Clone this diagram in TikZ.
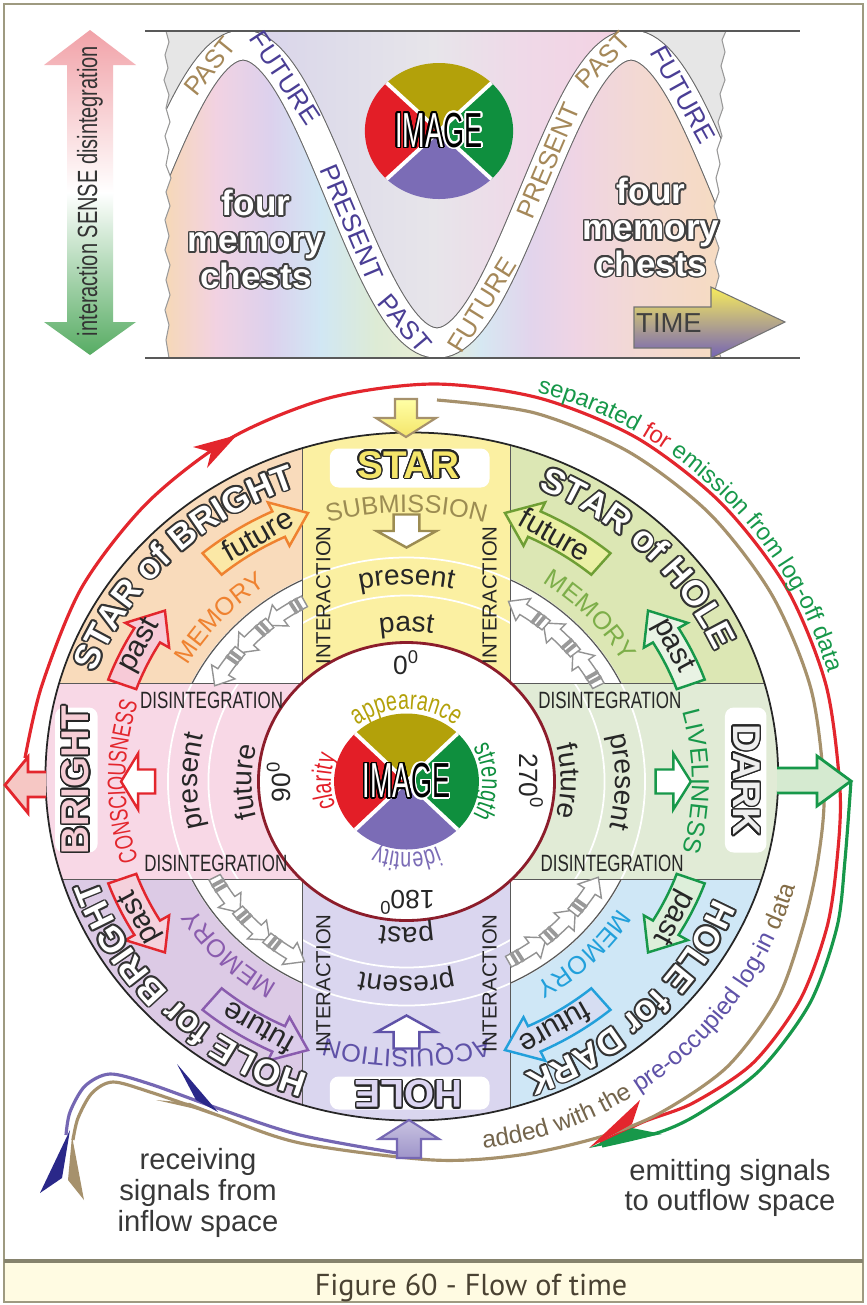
\documentclass[tikz,border=0pt]{standalone}
\usepackage{fontspec}
\usepackage[copies]{contour}
\usetikzlibrary{decorations.text}
\setmainfont{Liberation Sans}
\newfontfamily\narrowfont[FakeStretch=0.72]{Liberation Sans}
\newfontfamily\imagefont[FakeStretch=0.55]{Liberation Sans}
\newfontfamily\captionfont{PT Sans}
\contourlength{0.45pt}
\contournumber{20}

\definecolor{frameline}{HTML}{9E9A80}
\definecolor{captionband}{HTML}{FFFBE2}
\definecolor{captiontext}{HTML}{4A4232}
\definecolor{imgolive}{HTML}{B3A10A}
\definecolor{imggreen}{HTML}{0F8F3E}
\definecolor{imgpurple}{HTML}{7B6CB6}
\definecolor{imgred}{HTML}{E31E27}
\definecolor{wavetan}{HTML}{A58859}
\definecolor{wavepurple}{HTML}{4A3E95}
\definecolor{sensepink}{HTML}{F1A2A8}
\definecolor{sensegreen}{HTML}{57AC63}
\definecolor{timeyellow}{HTML}{F7EC5C}
\definecolor{timepurple}{HTML}{7463B5}
\definecolor{skygray}{HTML}{E6E6E6}
\definecolor{chestA}{HTML}{F6D8B8}
\definecolor{chestB}{HTML}{F2D2E2}
\definecolor{chestC}{HTML}{DCD1ED}
\definecolor{chestD}{HTML}{D1E7F4}
\definecolor{chestE}{HTML}{DDEBD5}
\definecolor{chestF}{HTML}{EAEDD3}
\definecolor{chestG}{HTML}{D6E8F2}
\definecolor{chestH}{HTML}{E2D4EC}
\definecolor{chestI}{HTML}{EFD4E4}
\definecolor{chestJ}{HTML}{F3D9D2}
\definecolor{chestK}{HTML}{F6DBC0}
\definecolor{skyA}{HTML}{D9D3EB}
\definecolor{skyB}{HTML}{DEDCEA}
\definecolor{skyC}{HTML}{E7E5EA}
\definecolor{skyD}{HTML}{EFD9E8}
\definecolor{skyE}{HTML}{F4D1E2}
% quadrants and arms of the disc
\definecolor{starbright}{HTML}{F9DBBB}
\definecolor{starhole}{HTML}{DCE7B4}
\definecolor{holedark}{HTML}{CFE7F6}
\definecolor{holebright}{HTML}{DCCAE5}
\definecolor{starfill}{HTML}{FBF0A2}
\definecolor{holefill}{HTML}{DAD6EF}
\definecolor{brightfill}{HTML}{F8D8E6}
\definecolor{darkfill}{HTML}{E1EBD6}
\definecolor{starletter}{HTML}{F4E56A}
\definecolor{holeletter}{HTML}{DCD5F2}
\definecolor{brightletter}{HTML}{F6CDD5}
\definecolor{darkletter}{HTML}{EEEEEE}
% rings and arrows
\definecolor{ringred}{HTML}{E3262D}
\definecolor{ringgreen}{HTML}{17984A}
\definecolor{ringtan}{HTML}{A6916C}
\definecolor{ringpurple}{HTML}{7567B3}
\definecolor{barbnavy}{HTML}{2A2889}
\definecolor{innerred}{HTML}{8C1D2B}
\definecolor{submit}{HTML}{9C8C52}
\definecolor{acquire}{HTML}{5F52A8}
\definecolor{memorange}{HTML}{EF8230}
\definecolor{memgreen}{HTML}{7DAE49}
\definecolor{memblue}{HTML}{22A0DB}
\definecolor{mempurple}{HTML}{8A5CAE}
\definecolor{futolive}{HTML}{6E9E34}
\definecolor{pastpinkA}{HTML}{F7CAD7}
\definecolor{pastpinkB}{HTML}{F5D1DC}
\definecolor{futyellow}{HTML}{FBE8A6}
\definecolor{futgreen}{HTML}{EBF0A4}
\definecolor{pastgreenA}{HTML}{E9F3E4}
\definecolor{pastgreenB}{HTML}{DDEFDA}
\definecolor{futblue}{HTML}{D6DDF2}
\definecolor{futlilac}{HTML}{DCCCEA}
\definecolor{brightarrow}{HTML}{F6C7C4}
\definecolor{darkarrow}{HTML}{D5EAD0}

\newcommand\fsize[1]{\fontsize{#1}{#1}\selectfont}
\def\wavey#1{-(194-149*cos((#1-243)*0.927835))}

% words set along an arc of the current frame: colour, font, radius, from, to, text
\newcommand\arcword[6]{%
  \path[decorate, decoration={text along path, text color=#1,
    text={|#2|#6}, text align=center}]
    (#4:#3) arc[start angle=#4, end angle=#5, radius=#3];}
% the same, with a dark rim round the letters
\newcommand\outarcword[6]{%
  \foreach \rimA in {0,30,...,330}
    \path[shift={(\rimA:0.5pt)}, decorate, decoration={text along path,
      text color=black!80, text={|#2|#6}, text align=center}]
      (#4:#3) arc[start angle=#4, end angle=#5, radius=#3];
  \arcword{#1}{#2}{#3}{#4}{#5}{#6}}
% bent block arrow: [style] radius, tail, head base, tip, shaft half width, head half width
\newcommand\bendarrow[7][]{%
  \pgfmathsetmacro\arrRin{#2-#6}\pgfmathsetmacro\arrRout{#2+#6}%
  \pgfmathsetmacro\arrHin{#2-#7}\pgfmathsetmacro\arrHout{#2+#7}%
  \draw[#1] ({#3}:\arrRin) arc[start angle={#3}, end angle={#4}, radius=\arrRin]
    -- ({#4}:\arrHin) -- ({#5}:#2) -- ({#4}:\arrHout) -- ({#4}:\arrRout)
    arc[start angle={#4}, end angle={#3}, radius=\arrRout] -- cycle;}
% straight arrow on an arm of the disc: style, direction, tail radius, tip radius
\newcommand\armarrow[4]{%
  \begin{scope}[rotate=#2]
    \pgfmathsetmacro\armbase{(#3+#4)/2}
    \draw[#1] (#3,-12) -- (\armbase,-12) -- (\armbase,-28) -- (#4,0)
      -- (\armbase,28) -- (\armbase,12) -- (#3,12) -- cycle;
  \end{scope}}
% the four-coloured IMAGE disc
\newcommand\imagedisc[2]{%
  \fill[imgolive] (0,0) -- (45:#1) arc[start angle=45, end angle=135, radius=#1] -- cycle;
  \fill[imgred] (0,0) -- (135:#1) arc[start angle=135, end angle=225, radius=#1] -- cycle;
  \fill[imgpurple] (0,0) -- (225:#1) arc[start angle=225, end angle=315, radius=#1] -- cycle;
  \fill[imggreen] (0,0) -- (315:#1) arc[start angle=315, end angle=405, radius=#1] -- cycle;
  \draw[white, line width=1.1pt] (45:#1) -- (225:#1) (135:#1) -- (315:#1);
  \node[font=\imagefont\fsize{14}, text=white, inner sep=0pt] (#2) at (0,0)
    {\contour{black}{IMA}\textcolor{black}{\contour{white}{GE}}};}

\def\panelpath{(166,-31) -- (169,-42) -- (165,-55) -- (168,-68) -- (164,-80) -- (169,-95)
  -- (166,-108) -- (170,-122) -- (165,-136) -- (169,-150) -- (166,-165) -- (171,-178)
  -- (166,-192) -- (170,-206) -- (165,-220) -- (169,-236) -- (165,-250) -- (170,-265)
  -- (166,-280) -- (170,-295) -- (165,-310) -- (169,-325) -- (166,-340) -- (169,-358)
  -- (721,-358) -- (717,-345) -- (721,-332) -- (716,-318) -- (720,-304) -- (715,-290)
  -- (719,-276) -- (715,-262) -- (719,-248) -- (714,-234) -- (718,-220) -- (714,-206)
  -- (719,-192) -- (716,-178) -- (720,-164) -- (717,-150) -- (722,-136) -- (718,-122)
  -- (723,-108) -- (720,-94) -- (725,-80) -- (721,-66) -- (725,-52) -- (722,-40)
  -- (726,-31) -- cycle}

\begin{document}
\begin{tikzpicture}[x=0.01cm, y=0.01cm,
  waveword/.style={font=\fsize{7.4}, inner sep=0pt},
  chestword/.style={font=\bfseries\fontsize{10}{10.3}\selectfont, text=white, align=center},
  armword/.style={font=\fsize{8.5}, text=black!85, inner sep=0pt},
  degword/.style={font=\fsize{7.5}, text=black!85, inner sep=0pt},
  inter/.style={font=\fsize{5.8}, text=black!85, rotate=90, inner sep=0pt},
  disint/.style={font=\narrowfont\fsize{6.7}, text=black!85, inner sep=0pt},
  bigword/.style={font=\bfseries\fsize{11}, inner sep=0pt},
  smallarrow/.style={draw=gray!85, fill=white, line width=0.4pt},
  note/.style={font=\fontsize{8.3}{8.7}\selectfont, text=black!78, align=center},
  namebox/.style={fill=white, rounded corners=2.5pt}]

\fill[white] (0,0) rectangle (867,-1305);
\useasboundingbox (0,0) rectangle (867,-1305);

% frame and caption band
\fill[captionband] (4,-1262) rectangle (863,-1302);
\draw[frameline, line width=0.6pt] (4,-4) rectangle (863,-1302);
\draw[frameline!85!black, line width=0.9pt] (4,-1261) -- (863,-1261);
\node[font=\captionfont\fsize{8.6}, text=captiontext] (caption) at (471,-1288) {Figure 60 - Flow of time};

% ---------- upper panel: the wave of time ----------
\begin{scope}
  \clip \panelpath;
  \foreach \xa/\xb/\ca/\cb in {166/215/chestA/chestB, 215/270/chestB/chestC, 270/320/chestC/chestD,
      320/375/chestD/chestE, 375/437/chestE/chestF, 437/480/chestF/chestG, 480/530/chestG/chestH,
      530/575/chestH/chestI, 575/640/chestI/chestJ, 640/726/chestJ/chestK}
    \shade[left color=\ca, right color=\cb] (\xa,-25) rectangle (\xb+1,-365);
  \begin{scope}
    \clip plot[domain=150:740, samples=120] (\x, {\wavey{\x}}) -- (740,-20) -- (150,-20) -- cycle;
    \foreach \xa/\xb/\ca/\cb in {243/330/skyA/skyB, 330/433/skyB/skyC, 433/520/skyC/skyD, 520/631/skyD/skyE}
      \shade[left color=\ca, right color=\cb] (\xa,-20) rectangle (\xb+1,-365);
    \fill[skygray] (150,-20) rectangle (243,-365) (631,-20) rectangle (740,-365);
  \end{scope}
  \draw[black!60, line width=8.9pt] plot[domain=150:740, samples=150] (\x, {\wavey{\x}});
  \draw[white, line width=8.3pt] plot[domain=150:740, samples=150] (\x, {\wavey{\x}});
\end{scope}
\draw[black!40, line width=0.3pt] \panelpath;
\draw[black!65, line width=0.4pt] (145,-31) -- (800,-31) (145,-358) -- (800,-358);

\foreach \x/\w/\c [count=\idx] in {210/PAST/wavetan, 285/FUTURE/wavepurple, 352/PRESENT/wavepurple,
    405/PAST/wavepurple, 482/FUTURE/wavetan, 548/PRESENT/wavetan, 603/PAST/wavetan, 683/FUTURE/wavepurple}
  \node[waveword, text=\c, rotate={atan(-2.413*sin((\x-243)*0.927835))}] (wave\idx) at (\x, {\wavey{\x}}) {\w};

\node[chestword] (chestL) at (256,-240) {\contour{black!75}{four}\\\contour{black!75}{memory}\\\contour{black!75}{chests}};
\node[chestword] (chestR) at (651,-228) {\contour{black!75}{four}\\\contour{black!75}{memory}\\\contour{black!75}{chests}};

\begin{scope}[shift={(439,-131)}, xscale=1.09]
  \imagedisc{68}{topimage}
\end{scope}

% sense arrow
\shade[top color=sensepink, bottom color=sensegreen, middle color=white]
  (90,-30) -- (136,-65) -- (113,-65) -- (113,-322) -- (136,-322) -- (90,-355)
  -- (44,-322) -- (67,-322) -- (67,-65) -- (44,-65) -- cycle;
\node[rotate=90, font=\narrowfont\fsize{7.9}, text=black!80] (sense) at (90,-191) {interaction SENSE disintegration};

% time arrow
\shadedraw[top color=timeyellow, bottom color=timepurple, draw=black!55, line width=0.3pt]
  (634,-307) -- (711,-307) -- (711,-287) -- (785,-322) -- (711,-358) -- (711,-348) -- (634,-348) -- cycle;
\node[font=\fsize{7.8}, text=black!75] (time) at (669,-323) {TIME};

% ---------- rings round the disc ----------
\draw[ringred, line width=0.9pt] plot[smooth] coordinates {(25,-758) (42,-685) (82,-587) (147,-503)
  (231,-438) (329,-398) (434,-384) (539,-398) (637,-438) (721,-503) (786,-587) (826,-685) (840,-790)
  (837,-860) (827,-927) (800,-1000) (753,-1063) (693,-1103) (643,-1122) (600,-1143)};
\fill[ringred] (237,-435) -- (193,-447) -- (211,-452) -- (207,-468) -- cycle;
\draw[ringgreen, line width=0.9pt] plot[smooth] coordinates {(851,-781) (845,-860) (837,-927)
  (810,-1003) (760,-1070) (700,-1113) (660,-1132) (602,-1146)};
\draw[ringtan, line width=0.9pt] plot[smooth] coordinates {(437,-400) (535,-413) (629,-452) (710,-514)
  (772,-595) (811,-689) (824,-790) (818,-860) (803,-927) (777,-1000) (727,-1067) (660,-1113) (600,-1137)
  (520,-1155) (433,-1160) (300,-1143) (217,-1115) (150,-1092) (113,-1082) (92,-1093) (78,-1118) (73,-1140)};
\draw[ringpurple, line width=0.9pt] plot[smooth] coordinates {(409,-1155) (300,-1135) (217,-1108)
  (150,-1084) (110,-1074) (85,-1086) (70,-1112) (66,-1135)};
\fill[ringred] (589,-1148) -- (640,-1100) -- (632,-1124) -- cycle;
\fill[ringgreen] (589,-1148) -- (662,-1134) -- (632,-1128) -- cycle;
\fill[barbnavy] (218,-1112) -- (177,-1064) -- (196,-1100) -- cycle;
\fill[ringtan] (218,-1114) -- (156,-1100) -- (190,-1103) -- cycle;
\fill[barbnavy] (70,-1130) -- (40,-1193) -- (62,-1178) -- cycle;
\fill[ringtan] (72,-1136) -- (84,-1200) -- (68,-1180) -- cycle;

\begin{scope}[shift={(434,-790)}]
  \arcword{ringgreen}{\fsize{6.8}}{411}{78}{14}{separated |\fsize{6.8}\color{ringred}|for |\fsize{6.8}\color{ringgreen}|emission from log-off data}
\end{scope}
\begin{scope}[shift={(440,-780)}]
  \arcword{ringtan!70!black}{\fsize{7}}{371}{-86}{-14}{added with the |\fsize{7}\color{acquire}|pre-occupied log-in |\fsize{7}\color{wavetan!80!black}|data}
\end{scope}

% ---------- the disc ----------
\begin{scope}[shift={(406.5,-781.5)}, xscale=1.065]
  \begin{scope}
    \clip (5,5) circle[radius=344];
    \fill[starbright] (-400,0) rectangle (0,400);
    \fill[starhole] (0,0) rectangle (400,400);
    \fill[holedark] (0,0) rectangle (400,-400);
    \fill[holebright] (-400,0) rectangle (0,-400);
    \fill[white] (0,0) circle[radius=224];
    \fill[starfill] (-98,0) rectangle (98,400);
    \fill[holefill] (-98,0) rectangle (98,-400);
    \fill[brightfill] (-400,-98) rectangle (0,98);
    \fill[darkfill] (0,-98) rectangle (400,98);
    \draw[white, line width=0.5pt] (0,0) circle[radius=186] (0,0) circle[radius=224];
    \draw[black!65, line width=0.35pt] (-98,-400) -- (-98,400) (98,-400) -- (98,400)
      (-400,-98) -- (400,-98) (-400,98) -- (400,98);
  \end{scope}
  \foreach \q in {45,135,225,315}
    \draw[black!65, line width=0.35pt] ({\q-19.1}:224) arc[start angle=\q-19.1, end angle=\q+19.1, radius=224];
  \draw[black!85, line width=0.5pt] (5,5) circle[radius=344];
  \filldraw[fill=white, draw=innerred, line width=0.8pt] (0,0) circle[radius=139];
  \imagedisc{68}{image}

  % name boxes
  \fill[namebox] (-72,294) rectangle (78,333);
  \fill[namebox] (-72,-328) rectangle (78,-295);
  \fill[namebox] (-330,-71) rectangle (-290,74);
  \fill[namebox] (299,-71) rectangle (338,74);
  \node[bigword, text=starletter] (star) at (2,316) {\contour{black!85}{STAR}};
  \node[bigword, text=holeletter, rotate=180] (hole) at (2,-312) {\contour{black!85}{HOLE}};
  \node[bigword, text=brightletter, rotate=90] (bright) at (-310,1.5) {\contour{black!85}{BRIGHT}};
  \node[bigword, text=darkletter, rotate=-90] (dark) at (318.5,1.5) {\contour{black!85}{DARK}};

  % arms
  \arcword{submit}{\fsize{7.2}}{269}{130}{50}{SUBMISSION}
  \arcword{acquire}{\fsize{7.2}}{268}{-50}{-130}{ACQUISITION}
  \arcword{ringred}{\narrowfont\fsize{7.2}}{264}{220}{140}{CONSCIOUSNESS}
  \arcword{ringgreen}{\fsize{7}}{268}{40}{-40}{LIVELINESS}
  \arcword{black!85}{\fsize{8}}{197}{130}{50}{present}
  \arcword{black!85}{\fsize{8}}{150}{130}{50}{past}
  \arcword{black!85}{\fsize{8}}{195}{-50}{-130}{present}
  \arcword{black!85}{\fsize{8}}{146}{-50}{-130}{past}
  \arcword{black!85}{\fsize{8}}{196}{220}{140}{present}
  \arcword{black!85}{\fsize{8}}{145}{220}{140}{future}
  \arcword{black!85}{\fsize{8}}{145}{40}{-40}{future}
  \arcword{black!85}{\fsize{8}}{196}{40}{-40}{present}
  \armarrow{draw=submit, fill=white, line width=0.7pt}{90}{267}{234}
  \armarrow{draw=acquire, fill=white, line width=0.7pt}{-90}{267}{234}
  \armarrow{draw=ringred, fill=white, line width=0.7pt}{180}{236}{268}
  \armarrow{draw=ringgreen, fill=white, line width=0.7pt}{0}{234}{267}
  \foreach \ix/\iy [count=\idx] in {-78/186, 78/186, -78/-202, 78/-202}
    \node[inter] (inter\idx) at (\ix,\iy) {INTERACTION};
  \foreach \ix/\iy [count=\idx] in {-183/81, -179/-82, 191/81, 193/-82}
    \node[disint] (dis\idx) at (\ix,\iy) {DISINTEGRATION};

  % centre
  \arcword{imgolive}{\narrowfont\fsize{7.8}}{72}{140}{40}{appearance}
  \arcword{imggreen}{\narrowfont\fsize{7.8}}{71}{45}{-45}{strength}
  \arcword{imgpurple}{\narrowfont\fsize{7.8}}{71}{-45}{-135}{identity}
  \arcword{imgred}{\narrowfont\fsize{7.8}}{71}{225}{135}{clarity}
  \node[degword] (deg0) at (0,119) {0\textsuperscript{0}};
  \node[degword, rotate=90] (deg90) at (-120,0) {90\textsuperscript{0}};
  \node[degword, rotate=180] (deg180) at (0,-121) {180\textsuperscript{0}};
  \node[degword, rotate=-90] (deg270) at (117,0) {270\textsuperscript{0}};

  % quadrants
  \foreach \q in {135,45,-45,-135}
    \foreach \d in {-11,0,11} {
      \pgfmathsetmacro\angQ{\q+\d}
      \bendarrow[smallarrow]{204}{\angQ-6}{\angQ+1.5}{\angQ+6}{6}{13}
      \draw[black!40, line width=1.1pt] ({\angQ-4.2}:197) -- ({\angQ-4.2}:211) ({\angQ-2.6}:197) -- ({\angQ-2.6}:211);
    }
  \arcword{memorange}{\fsize{7.2}}{236}{183}{93}{MEMORY}
  \arcword{memgreen}{\fsize{7.2}}{236}{88}{-2}{MEMORY}
  \arcword{memblue}{\fsize{7.2}}{236}{0}{-90}{MEMORY}
  \arcword{mempurple}{\fsize{7.2}}{236}{-90}{-180}{MEMORY}
  \foreach \angA/\angB/\angC/\lc/\fc/\qword [count=\idx] in {
      160/149/143/ringred/pastpinkA/past, 130/115/109/memorange/futyellow/future,
      50/65/71/futolive/futgreen/future, 20/31/37/ringgreen/pastgreenA/past,
      -20/-31/-37/ringgreen/pastgreenB/past, -50/-65/-71/memblue/futblue/future,
      -160/-149/-143/ringred/pastpinkB/past, -130/-115/-109/mempurple/futlilac/future} {
    \bendarrow[draw=\lc, fill=\fc, line width=0.7pt]{284}{\angA}{\angB}{\angC}{14}{24}
    \pgfmathsetmacro\angM{(\angA+\angC)/2}
    \node[armword, rotate=\angM-90] (qw\idx) at (\angM:284) {\qword};
  }
  \outarcword{white}{\bfseries\fsize{10}}{312}{180}{90}{STAR of BRIGHT}
  \outarcword{white}{\bfseries\fsize{10}}{318}{90}{0}{STAR of HOLE}
  \outarcword{white}{\bfseries\fsize{10}}{312}{0}{-90}{HOLE for DARK}
  \outarcword{white}{\bfseries\fsize{10}}{307}{-90}{-180}{HOLE for BRIGHT}
\end{scope}

% ---------- arrows on the rim ----------
\shadedraw[top color=yellow!35, bottom color=starletter, draw=ringtan, line width=0.6pt]
  (395,-399) -- (417,-399) -- (417,-418) -- (436,-418) -- (406,-437) -- (376,-418) -- (395,-418) -- cycle;
\shadedraw[top color=ringpurple!40, bottom color=ringpurple!70, draw=ringpurple, line width=0.6pt]
  (397,-1158) -- (421,-1158) -- (421,-1139) -- (439,-1139) -- (409,-1120) -- (379,-1139) -- (397,-1139) -- cycle;
\filldraw[fill=brightarrow, draw=ringred, line width=0.8pt]
  (46,-772) -- (28,-772) -- (28,-757) -- (5,-785) -- (28,-813) -- (28,-797) -- (46,-797);
\filldraw[fill=darkarrow, draw=ringgreen, line width=0.8pt]
  (777,-768) -- (817,-768) -- (817,-756) -- (851,-781) -- (817,-806) -- (817,-793) -- (777,-793);

\node[note] (receive) at (198,-1193) {receiving\\signals from\\inflow space};
\node[note] (emit) at (730,-1188) {emitting signals\\to outflow space};

\end{tikzpicture}
\end{document}
